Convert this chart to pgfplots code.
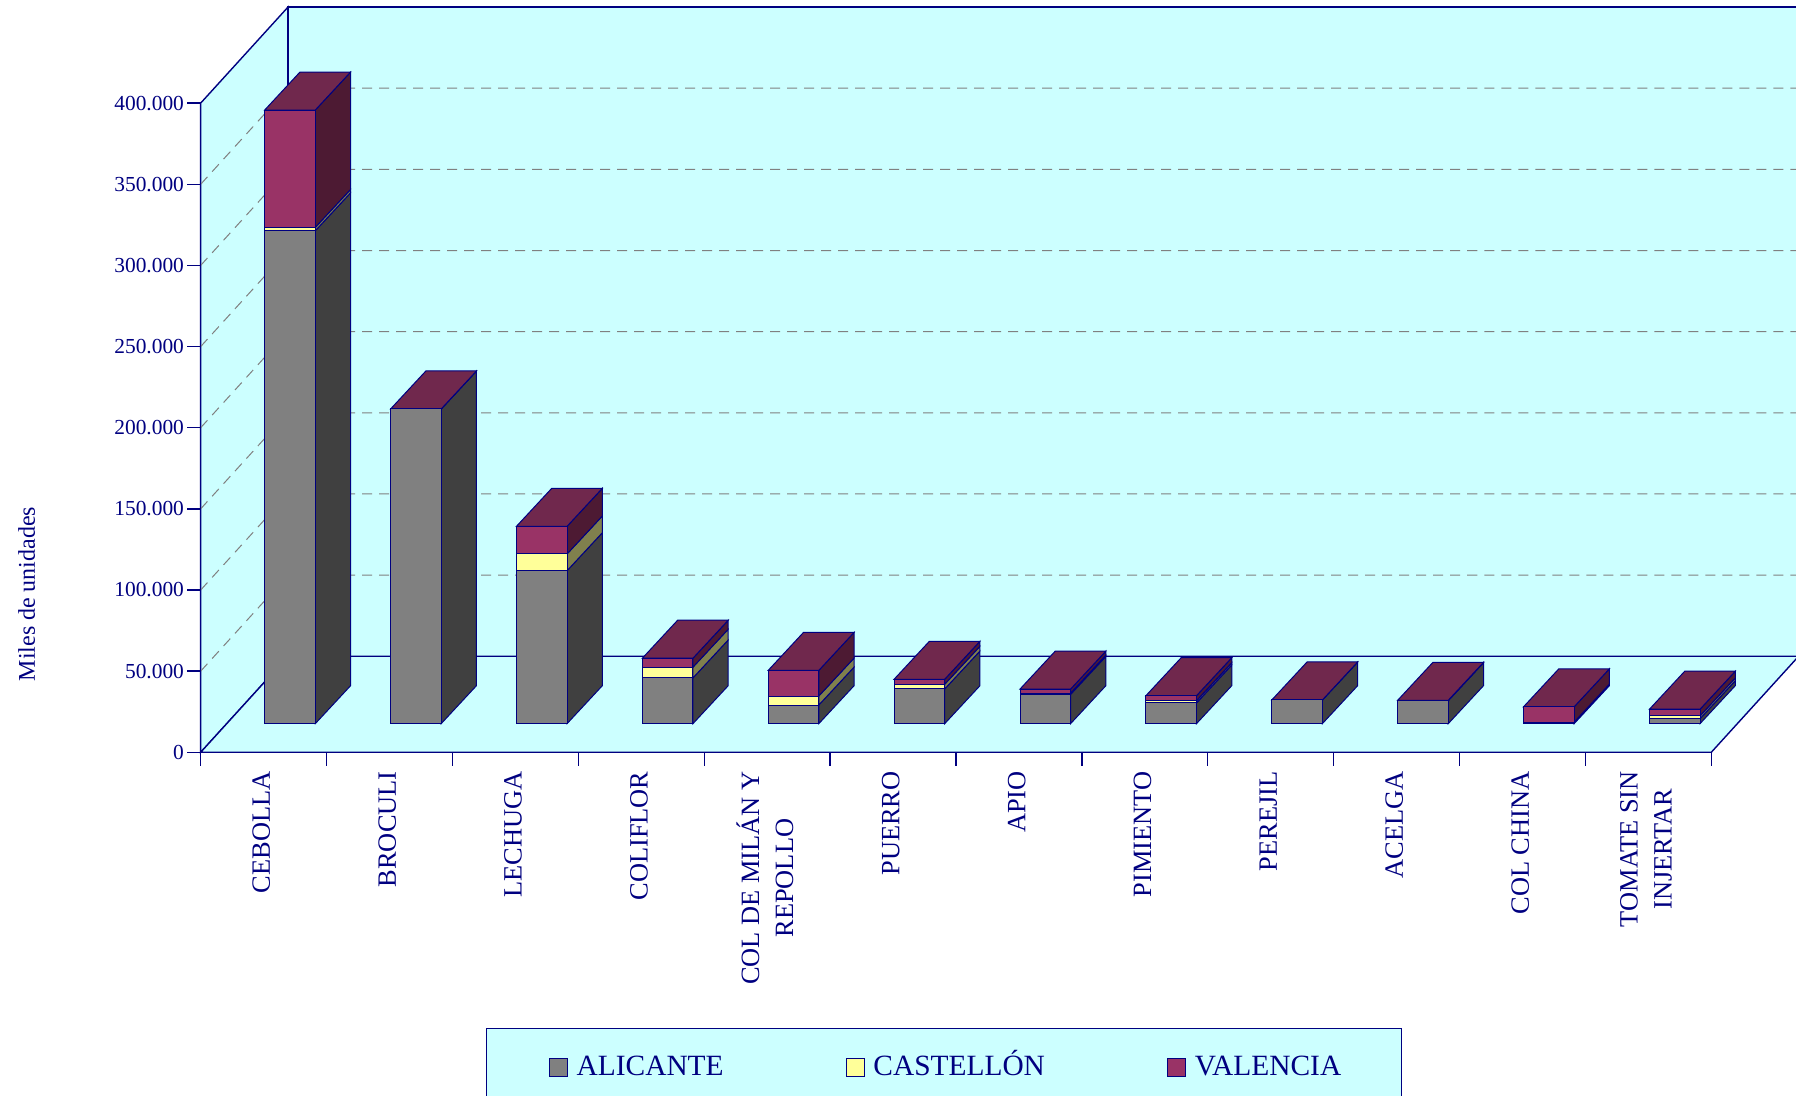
\documentclass[border=0pt]{standalone}
\usepackage{fontspec}
\setmainfont{Liberation Serif}
\usepackage{pgfplots}
\usepackage{pgfplotstable}
\pgfplotsset{compat=1.18}
\definecolor{navy}{HTML}{000080}
\definecolor{wall}{HTML}{CCFFFF}
\definecolor{griscol}{HTML}{808080}
\definecolor{amacol}{HTML}{FFFF99}
\definecolor{purcol}{HTML}{993366}
\definecolor{griside}{HTML}{404040}
\definecolor{amaside}{HTML}{80804D}
\definecolor{purside}{HTML}{4D1A33}
\definecolor{purtop}{HTML}{70284D}
\pgfplotstableread{
i alicante castellon valencia
0 303700 2100 72300
1 193900 0 0
2 94260 10300 17050
3 28200 6600 5540
4 11500 5550 15800
5 21400 2900 3080
6 18050 800 2460
7 12750 1400 3080
8 14600 0 0
9 14200 0 200
10 1000 0 9400
11 3100 1700 4100
}\datos
\newcommand{\barfaces}[1]{%
  \pgfplotstablegetelem{#1}{alicante}\of\datos \edef\va{\pgfplotsretval}%
  \pgfplotstablegetelem{#1}{castellon}\of\datos \edef\vc{\pgfplotsretval}%
  \pgfplotstablegetelem{#1}{valencia}\of\datos \edef\vv{\pgfplotsretval}%
  \pgfmathsetmacro\xl{#1+0.5083}%
  \pgfmathsetmacro\xr{#1+0.9102}%
  \pgfmathsetmacro\xlb{#1+0.7887}%
  \pgfmathsetmacro\xrb{#1+1.1906}%
  \edef\yo{17620}%
  \edef\yob{\the\numexpr\yo+23412\relax}%
  \edef\ya{\the\numexpr\yo+\va\relax}%
  \edef\yab{\the\numexpr\ya+23412\relax}%
  \edef\yc{\the\numexpr\ya+\vc\relax}%
  \edef\ycb{\the\numexpr\yc+23412\relax}%
  \edef\yv{\the\numexpr\yc+\vv\relax}%
  \edef\yvb{\the\numexpr\yv+23412\relax}%
  \edef\doit{\noexpand\addplot[fill=griside,draw=navy,line width=0.5pt,forget plot] coordinates {(\xr,\yo) (\xrb,\yob) (\xrb,\yab) (\xr,\ya)} -- cycle;
  \noexpand\addplot[fill=amaside,draw=navy,line width=0.5pt,forget plot] coordinates {(\xr,\ya) (\xrb,\yab) (\xrb,\ycb) (\xr,\yc)} -- cycle;
  \noexpand\addplot[fill=purside,draw=navy,line width=0.5pt,forget plot] coordinates {(\xr,\yc) (\xrb,\ycb) (\xrb,\yvb) (\xr,\yv)} -- cycle;
  \noexpand\addplot[fill=purtop,draw=navy,line width=0.5pt,forget plot] coordinates {(\xl,\yv) (\xr,\yv) (\xrb,\yvb) (\xlb,\yvb)} -- cycle;}%
  \doit
}
\pgfplotsset{
  keybox/.style={legend image code/.code={\draw[##1,line width=0.6pt] (0pt,-5.8pt) rectangle (9pt,3.2pt);}},
}
\begin{document}
\begin{tikzpicture}[x=1pt,y=1pt]
\path[use as bounding box] (0,0) rectangle (898,548);
\clip (0,0) rectangle (898,548);
\begin{axis}[
  at={(100.35pt,171.85pt)},anchor=south west,
  scale only axis,width=755.3pt,height=324.6pt,
  xmin=0,xmax=12,ymin=0,ymax=400000,
  clip=false,axis on top,
  axis lines*=left,
  axis line style={draw=navy,line width=0.7pt,-},
  tick style={draw=navy,line width=0.7pt},
  tick align=outside,major tick length=6.7pt,
  xtick={0,...,12},xticklabels={},
  ytick={0,50000,...,400000},
  scaled y ticks=false,
  /pgf/number format/.cd,fixed,1000 sep={.},assume math mode=true,/pgfplots/.cd,
  yticklabel style={text=navy,font=\fontsize{10.7}{12}\selectfont,inner sep=0pt,xshift=-1.5pt},
  extra x ticks={0.5,1.5,...,11.5},
  extra x tick labels={CEBOLLA,BROCULI,LECHUGA,COLIFLOR,{COL DE MILÁN Y\\REPOLLO},PUERRO,APIO,PIMIENTO,PEREJIL,ACELGA,COL CHINA,{TOMATE SIN\\INJERTAR}},
  extra x tick style={major tick length=0pt,xticklabel style={text=navy,font=\fontsize{13.2}{17}\selectfont,rotate=90,anchor=east,align=center,inner sep=0pt,xshift=-9.35pt,yshift=1.15pt}},
  ylabel={Miles de unidades},
  every axis y label/.style={at={(axis description cs:-0.1152,0.2438)},rotate=90,anchor=center,text=navy,font=\fontsize{12}{14}\selectfont},
]
% walls
\addplot[fill=wall,draw=navy,line width=0.7pt,forget plot] coordinates {(0,0) (0,400000) (0.6934,459146) (0.6934,59146)} -- cycle;
\addplot[fill=wall,draw=navy,line width=0.7pt,forget plot] coordinates {(0.6934,59146) (0.6934,459146) (12.6934,459146) (12.6934,59146)} -- cycle;
\addplot[fill=wall,draw=navy,line width=0.7pt,forget plot] coordinates {(0,0) (0.6934,59146) (12.6934,59146) (12,0)} -- cycle;
% grid
\addplot[griscol,line width=0.5pt,dash pattern=on 5pt off 3.5pt,forget plot] coordinates {(0,50000) (0.6934,109146) (12.6934,109146)};
\addplot[griscol,line width=0.5pt,dash pattern=on 5pt off 3.5pt,forget plot] coordinates {(0,100000) (0.6934,159146) (12.6934,159146)};
\addplot[griscol,line width=0.5pt,dash pattern=on 5pt off 3.5pt,forget plot] coordinates {(0,150000) (0.6934,209146) (12.6934,209146)};
\addplot[griscol,line width=0.5pt,dash pattern=on 5pt off 3.5pt,forget plot] coordinates {(0,200000) (0.6934,259146) (12.6934,259146)};
\addplot[griscol,line width=0.5pt,dash pattern=on 5pt off 3.5pt,forget plot] coordinates {(0,250000) (0.6934,309146) (12.6934,309146)};
\addplot[griscol,line width=0.5pt,dash pattern=on 5pt off 3.5pt,forget plot] coordinates {(0,300000) (0.6934,359146) (12.6934,359146)};
\addplot[griscol,line width=0.5pt,dash pattern=on 5pt off 3.5pt,forget plot] coordinates {(0,350000) (0.6934,409146) (12.6934,409146)};
% side and top faces of the bars
\pgfplotsforeachungrouped \r in {0,...,11}{\barfaces{\r}}
\end{axis}
\begin{axis}[
  at={(113.5pt,186.15pt)},anchor=south west,
  scale only axis,width=755.4pt,height=324.6pt,
  xmin=-0.5,xmax=11.5,ymin=0,ymax=400000,
  clip=false,hide axis,
  ybar stacked,bar width=0.402,
  legend columns=3,
  legend style={
    at={(rel axis cs:0.4744,-0.4687)},anchor=north,
    draw=navy,fill=wall,line width=0.7pt,
    inner xsep=31.45pt,inner ysep=9pt,
    text=navy,font=\fontsize{14.7}{16}\selectfont,
    /tikz/every even column/.append style={column sep=59.1pt},
    legend cell align=left,
  },
]
\addplot[fill=griscol,draw=navy,line width=0.5pt,keybox] table[x=i,y=alicante] {\datos};
\addlegendentry{\hspace{2.2pt}\vphantom{Ó}ALICANTE}
\addplot[fill=amacol,draw=navy,line width=0.5pt,keybox] table[x=i,y=castellon] {\datos};
\addlegendentry{\hspace{2.2pt}\vphantom{Ó}CASTELLÓN}
\addplot[fill=purcol,draw=navy,line width=0.5pt,keybox] table[x=i,y=valencia] {\datos};
\addlegendentry{\hspace{2.2pt}\vphantom{Ó}VALENCIA\kern-3.44pt\mbox{}}
\end{axis}
\end{tikzpicture}
\end{document}
